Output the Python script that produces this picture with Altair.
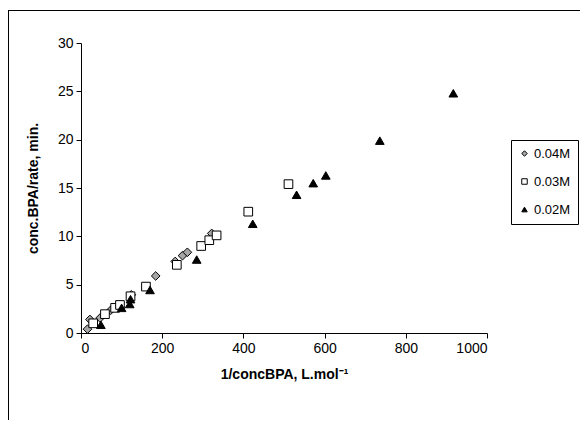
import altair as alt
import pandas as pd

series = ["0.04M", "0.03M", "0.02M"]

x_004 = [16, 22, 47, 73, 124, 184, 232, 250, 262, 322]
y_004 = [0.4, 1.4, 1.55, 2.35, 3.95, 5.9, 7.4, 8.0, 8.35, 10.3]

x_003 = [30, 59, 84, 96, 122, 160, 236, 296, 316, 334, 412, 511]
y_003 = [1.0, 1.95, 2.6, 2.9, 3.8, 4.8, 7.05, 9.0, 9.6, 10.1, 12.55, 15.4]

x_002 = [49, 100, 120, 122, 170, 285, 423, 531, 572, 603, 736, 917]
y_002 = [0.85, 2.6, 3.0, 3.5, 4.45, 7.6, 11.3, 14.3, 15.5, 16.3, 19.9, 24.8]

x_ticks = [0, 200, 400, 600, 800, 1000]
y_ticks = [0, 5, 10, 15, 20, 25, 30]

rows = []
for name, xs, ys in zip(series, [x_004, x_003, x_002], [y_004, y_003, y_002]):
    for a, b in zip(xs, ys):
        rows.append({"x": a, "y": b, "s": name})
df = pd.DataFrame(rows)

FONT = "Liberation Sans"

points = alt.Chart(df).mark_point(filled=True, strokeWidth=1, opacity=1).encode(
    x=alt.X("x:Q", scale=alt.Scale(domain=[0, 1000], nice=False),
            axis=alt.Axis(values=x_ticks, format="d", title="1/concBPA, L.mol⁻¹", grid=False,
                          titlePadding=12)),
    y=alt.Y("y:Q", scale=alt.Scale(domain=[0, 30], nice=False),
            axis=alt.Axis(values=y_ticks, format="d", title="conc.BPA/rate, min.", grid=False,
                          titlePadding=17)),
    shape=alt.Shape("s:N", scale=alt.Scale(domain=series, range=["diamond", "square", "triangle-up"]),
                    legend=alt.Legend(title=None)),
    fill=alt.Fill("s:N", scale=alt.Scale(domain=series, range=["#a6a6a6", "white", "black"]),
                  legend=alt.Legend(title=None)),
    stroke=alt.Stroke("s:N", scale=alt.Scale(domain=series, range=["black", "black", "black"]),
                      legend=alt.Legend(title=None)),
    size=alt.value(75),
)

frame_left = alt.Chart(df).mark_rule(color="black", strokeWidth=1).encode(
    x=alt.value(-72.5), y=alt.value(-32.5), y2=alt.value(390))
frame_top = alt.Chart(df).mark_rule(color="black", strokeWidth=1).encode(
    x=alt.value(-72.5), x2=alt.value(499), y=alt.value(-32.5))

chart = alt.layer(frame_left, frame_top, points).properties(
    width=406, height=290,
    autosize=alt.AutoSizeParams(type="none"),
    padding={"left": 73, "top": 35, "right": 93, "bottom": 87},
).configure_view(stroke=None).configure_axis(
    domainColor="black", tickColor="black", tickSize=5, labelColor="black",
    labelFont=FONT, labelFontSize=14, labelPadding=3,
    titleFont=FONT, titleFontSize=14, titleFontWeight="bold", titleColor="black",
).configure_legend(
    orient="none", legendX=430, legendY=97, strokeColor="black", fillColor="white",
    padding=7, rowPadding=14, labelFont=FONT, labelFontSize=13, labelColor="black",
    symbolSize=30, symbolStrokeColor="black", symbolStrokeWidth=1, labelOffset=3,
)

chart.save("out.html", embed_options={"renderer": "svg", "actions": False})
